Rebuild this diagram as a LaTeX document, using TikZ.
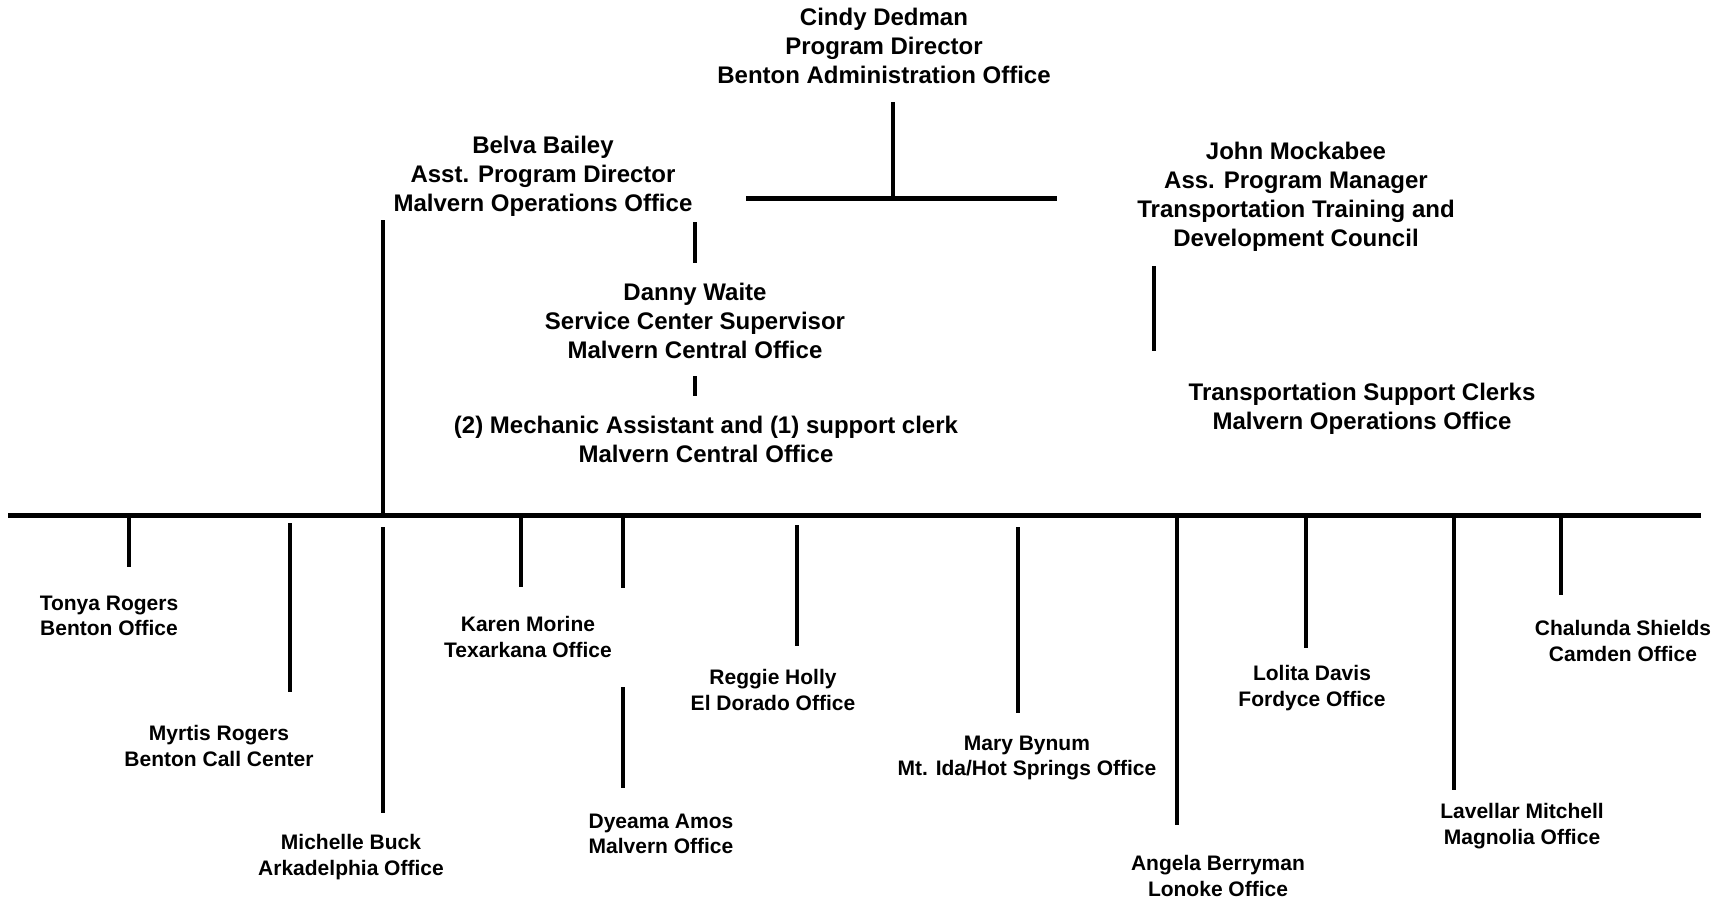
\documentclass[tikz,border=0pt]{standalone}
\usepackage{fontspec}
\setmainfont{Liberation Sans}
\begin{document}
\begin{tikzpicture}[x=1pt,y=-1pt,
  lbl/.style={align=center,inner sep=0pt,font=\bfseries\fontsize{24}{29}\selectfont},
  office/.style={align=center,inner sep=0pt,font=\bfseries\fontsize{21}{25.5}\selectfont},
  conn/.style={line width=3.5pt},
  barline/.style={line width=5pt}]
\useasboundingbox[fill=white] (0,0) rectangle (1721,906);
% top level
\node[lbl] (cindy) at (884,46) {Cindy Dedman\\Program Director\\Benton Administration Office};
\node[lbl] (belva) at (543,176) {Belva Bailey\\Asst. Program Director\\Malvern Operations Office};
\node[lbl] (john) at (1296,197) {John Mockabee\\Ass. Program Manager\\Transportation Training and\\Development Council};
\node[lbl] (danny) at (695,321) {Danny Waite\\Service Center Supervisor\\Malvern Central Office};
\node[lbl] (mech) at (706,439) {(2) Mechanic Assistant and (1) support clerk\\Malvern Central Office};
\node[lbl] (clerks) at (1362,409) {Transportation Support Clerks\\Malvern Operations Office};
% offices
\node[office] (tonya) at (109,616) {Tonya Rogers\\Benton Office};
\node[office] (myrtis) at (219,746) {Myrtis Rogers\\Benton Call Center};
\node[office] (michelle) at (351,857) {Michelle Buck\\Arkadelphia Office};
\node[office] (karen) at (528,637) {Karen Morine\\Texarkana Office};
\node[office] (dyeama) at (661,834) {Dyeama Amos\\Malvern Office};
\node[office] (reggie) at (773,690) {Reggie Holly\\El Dorado Office};
\node[office] (mary) at (1027,758) {Mary Bynum\\Mt. Ida/Hot Springs Office};
\node[office] (angela) at (1218,876) {Angela Berryman\\Lonoke Office};
\node[office] (lolita) at (1312,688) {Lolita Davis\\Fordyce Office};
\node[office] (lavellar) at (1522,826) {Lavellar Mitchell\\Magnolia Office};
\node[office] (chalunda) at (1623,641) {Chalunda Shields\\Camden Office};
% coordinates
\coordinate (cs1) at (893,102); \coordinate (cs2) at (893,198);
\coordinate (tL) at (746,198); \coordinate (tR) at (1057,198);
\coordinate (bs1) at (383,220); \coordinate (bs2) at (383,515);
\coordinate (bs3) at (383,527); \coordinate (bs4) at (383,813);
\coordinate (bd1) at (695,222); \coordinate (bd2) at (695,263);
\coordinate (dm1) at (695,376); \coordinate (dm2) at (695,396);
\coordinate (jc1) at (1154,266); \coordinate (jc2) at (1154,351);
\coordinate (barL) at (8,515); \coordinate (barR) at (1701,515);
\coordinate (to1) at (129,515); \coordinate (to2) at (129,567);
\coordinate (my1) at (290,523); \coordinate (my2) at (290,692);
\coordinate (ka1) at (521,515); \coordinate (ka2) at (521,587);
\coordinate (dy1) at (623,515); \coordinate (dy2) at (623,588);
\coordinate (dy3) at (623,687); \coordinate (dy4) at (623,788);
\coordinate (re1) at (797,525); \coordinate (re2) at (797,646);
\coordinate (ma1) at (1018,527); \coordinate (ma2) at (1018,713);
\coordinate (an1) at (1177,515); \coordinate (an2) at (1177,825);
\coordinate (lo1) at (1306,515); \coordinate (lo2) at (1306,648);
\coordinate (la1) at (1454,515); \coordinate (la2) at (1454,790);
\coordinate (ch1) at (1561,515); \coordinate (ch2) at (1561,595);
% lines
\draw[conn] (cs1) -- (cs2);
\draw[barline] (tL) -- (tR);
\draw[conn] (bs1) -- (bs2);
\draw[conn] (bs3) -- (bs4);
\draw[conn] (bd1) -- (bd2);
\draw[conn] (dm1) -- (dm2);
\draw[conn] (jc1) -- (jc2);
\draw[barline] (barL) -- (barR);
\draw[conn] (to1) -- (to2);
\draw[conn] (my1) -- (my2);
\draw[conn] (ka1) -- (ka2);
\draw[conn] (dy1) -- (dy2);
\draw[conn] (dy3) -- (dy4);
\draw[conn] (re1) -- (re2);
\draw[conn] (ma1) -- (ma2);
\draw[conn] (an1) -- (an2);
\draw[conn] (lo1) -- (lo2);
\draw[conn] (la1) -- (la2);
\draw[conn] (ch1) -- (ch2);
\end{tikzpicture}
\end{document}
